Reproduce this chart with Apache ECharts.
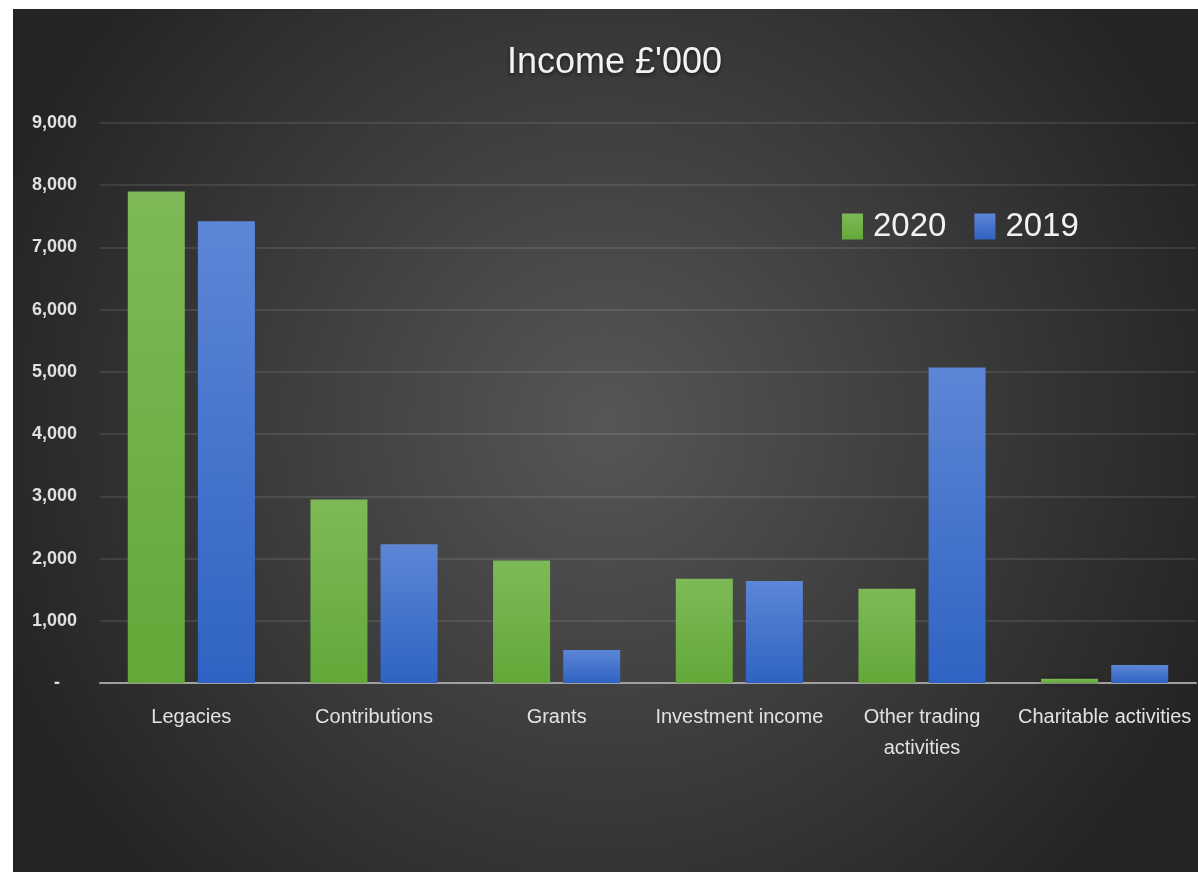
<!DOCTYPE html>
<html>
<head>
<meta charset="utf-8">
<title>Income</title>
<script src="https://cdn.jsdelivr.net/npm/echarts@6/dist/echarts.min.js"></script>
<style>
  html, body { margin: 0; padding: 0; background: #fff; }
  #chart { position: absolute; left: 13px; top: 9px; width: 1185px; height: 863px; }
</style>
</head>
<body>
<div id="chart"></div>
<script>
var categories = ['Legacies', 'Contributions', 'Grants', 'Investment income', 'Other trading\nactivities', 'Charitable activities'];
var income2020 = [7900, 2950, 1970, 1675, 1515, 70];
var income2019 = [7420, 2230, 530, 1640, 5070, 290];
var seriesNames = ['2020', '2019'];

var FONT = '"Liberation Sans Narrow", "Liberation Sans", sans-serif';

function barGrad(top, bottom) {
	return new echarts.graphic.LinearGradient(0, 0, 0, 1, [
		{ offset: 0, color: top },
		{ offset: 1, color: bottom }
	]);
}

var myChart = echarts.init(document.getElementById('chart'));

var option = {
	backgroundColor: {
		type: 'radial', x: 0.5, y: 0.48, r: 0.75,
		colorStops: [
			{ offset: 0, color: '#565656' },
			{ offset: 1, color: '#242424' }
		]
	},
	title: {
		text: "Income £'000",
		left: 489,
		top: 31,
		textStyle: {
			color: '#f2f2f2',
			fontFamily: FONT,
			fontSize: 36,
			fontWeight: 'normal',
			textShadowColor: 'rgba(0,0,0,0.6)',
			textShadowBlur: 4,
			textShadowOffsetY: 2
		}
	},
	legend: {
		data: seriesNames,
		left: 824,
		top: 196,
		itemWidth: 21,
		itemHeight: 26,
		itemGap: 28,
		icon: 'rect',
		textStyle: {
			color: '#f2f2f2',
			fontFamily: FONT,
			fontSize: 33,
			padding: [0, 0, 0, 5]
		}
	},
	grid: {
		left: 87,
		right: 2,
		top: 114,
		bottom: 189,
		containLabel: false
	},
	xAxis: {
		type: 'category',
		data: categories,
		axisTick: { show: false },
		axisLine: { lineStyle: { color: '#a0a0a0', width: 2 } },
		axisLabel: {
			color: '#e2e2e2',
			fontFamily: FONT,
			fontSize: 20,
			lineHeight: 31,
			margin: 19,
			interval: 0
		}
	},
	yAxis: {
		type: 'value',
		min: 0,
		max: 9000,
		interval: 1000,
		axisLine: { show: false },
		axisTick: { show: false },
		splitLine: { lineStyle: { color: 'rgba(255,255,255,0.13)', width: 1.5 } },
		axisLabel: {
			color: '#e0e0e0',
			fontFamily: FONT,
			fontSize: 18,
			fontWeight: 'bold',
			margin: 23,
			formatter: function (v) {
				if (v === 0) return '{d|-}';
				return v.toLocaleString('en-GB');
			},
			rich: {
				d: { color: '#e0e0e0', fontSize: 18, fontWeight: 'bold', fontFamily: FONT, padding: [0, 17, 0, 0] }
			}
		}
	},
	series: [{
		name: seriesNames[0],
		type: 'bar',
		data: income2020,
		barWidth: 57,
		barGap: '23%',
		itemStyle: {
			color: barGrad('#7dba57', '#63a839'),
			shadowColor: 'rgba(0,0,0,0.45)',
			shadowBlur: 5
		}
	}, {
		name: seriesNames[1],
		type: 'bar',
		data: income2019,
		barWidth: 57,
		barGap: '23%',
		itemStyle: {
			color: barGrad('#5d86d6', '#2f63c3'),
			shadowColor: 'rgba(0,0,0,0.45)',
			shadowBlur: 5
		}
	}]
};

myChart.setOption(option);
</script>
</body>
</html>
